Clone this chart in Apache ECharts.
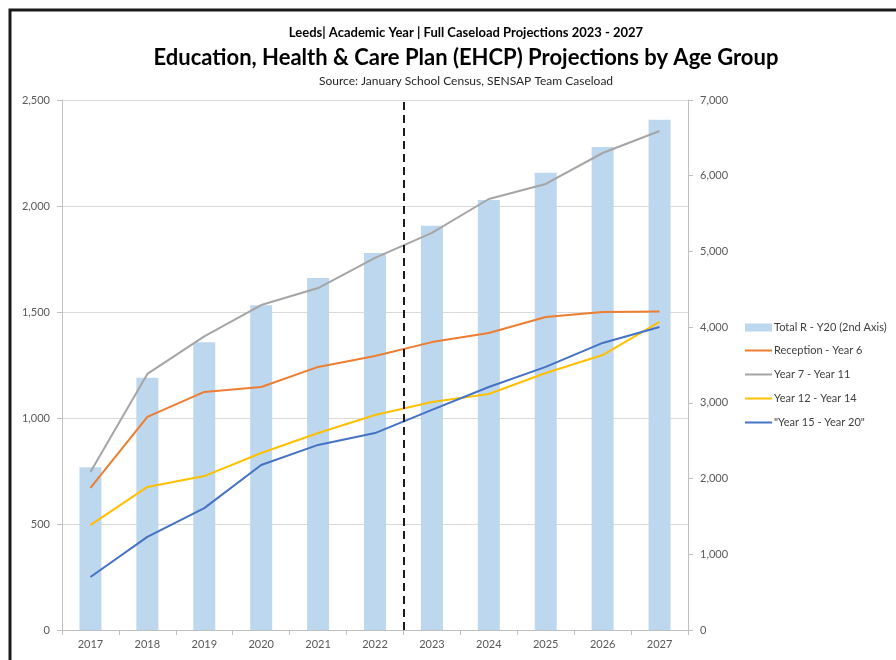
<!DOCTYPE html>
<html>
<head>
<meta charset="utf-8">
<script src="https://cdn.jsdelivr.net/npm/echarts@6/dist/echarts.min.js"></script>
<style>
  html, body { margin: 0; padding: 0; background: #fff; }
  #chart { width: 896px; height: 660px; }
</style>
</head>
<body>
<div id="chart"></div>
<script>
// chart data
const years = ['2017', '2018', '2019', '2020', '2021', '2022', '2023', '2024', '2025', '2026', '2027']
const totalR = [2150, 3330, 3800, 4290, 4650, 4980, 5340, 5680, 6040, 6380, 6740]
const reception = [670, 1005, 1123, 1146, 1241, 1292, 1358, 1401, 1476, 1500, 1502]
const year7to11 = [745, 1208, 1385, 1533, 1613, 1755, 1873, 2033, 2104, 2250, 2354]
const year12to14 = [495, 675, 726, 835, 929, 1014, 1075, 1113, 1212, 1297, 1453]
const year15to20 = [250, 439, 575, 778, 873, 929, 1038, 1146, 1241, 1354, 1429]
const splitAt = 6 // dashed line between 2022 and 2023

const lineNames = ['Reception - Year 6', 'Year 7 - Year 11', 'Year 12 - Year 14', '"Year 15 - Year 20"']
const barName = 'Total R - Y20 (2nd Axis)'

const font = 'Lato, "Open Sans", sans-serif'
const axisGrey = '#bfbfbf'
const labelGrey = '#595959'

const chart = echarts.init(document.getElementById('chart'))

const lineSeries = (name, data, color) => ({
  name,
  type: 'line',
  yAxisIndex: 0,
  data,
  symbol: 'none',
  lineStyle: { color, width: 2 },
  itemStyle: { color },
  z: 3
})

const legendText = { fontSize: 11, color: '#404040', fontFamily: font, padding: [0, 0, 0, -3] }

chart.setOption({
  textStyle: { fontFamily: font },
  title: [
    {
      text: 'Leeds| Academic Year | Full Caseload Projections 2023 - 2027',
      left: 461, top: 21, textAlign: 'center',
      textStyle: { fontSize: 13, fontWeight: 'bold', color: '#000', fontFamily: font }
    },
    {
      text: 'Education, Health & Care Plan (EHCP) Projections by Age Group',
      left: 461, top: 42, textAlign: 'center',
      textStyle: { fontSize: 22, fontWeight: 'bold', color: '#000', fontFamily: font }
    },
    {
      text: 'Source: January School Census, SENSAP Team Caseload',
      left: 461, top: 70, textAlign: 'center',
      textStyle: { fontSize: 12, fontWeight: 'normal', color: '#262626', fontFamily: font }
    }
  ],
  graphic: [
    {
      type: 'rect',
      shape: { x: 10, y: 10, width: 900, height: 670 },
      style: { fill: 'none', stroke: '#1a1a1a', lineWidth: 3 },
      silent: true
    }
  ],
  legend: [
    {
      orient: 'vertical',
      left: 745,
      top: 322,
      padding: 0,
      itemWidth: 27,
      itemHeight: 8,
      icon: 'rect',
      data: [barName],
      textStyle: legendText
    },
    {
      orient: 'vertical',
      left: 745,
      top: 345,
      padding: 0,
      itemWidth: 27,
      itemHeight: 2,
      itemGap: 13,
      icon: 'rect',
      data: lineNames,
      textStyle: legendText
    }
  ],
  grid: { left: 62, right: 208, top: 100, bottom: 30, containLabel: false },
  xAxis: [
    {
      type: 'category',
      data: years,
      boundaryGap: true,
      axisLine: { lineStyle: { color: axisGrey } },
      axisTick: { show: true, alignWithLabel: false, length: 5, lineStyle: { color: axisGrey } },
      axisLabel: { color: labelGrey, fontSize: 11, margin: 9 }
    },
    {
      type: 'value',
      min: 0,
      max: 11,
      show: false
    }
  ],
  yAxis: [
    {
      type: 'value',
      min: 0,
      max: 2500,
      interval: 500,
      position: 'left',
      axisLine: { show: true, lineStyle: { color: axisGrey } },
      axisTick: { show: true, length: 5, lineStyle: { color: axisGrey } },
      splitLine: { lineStyle: { color: '#d9d9d9' } },
      axisLabel: {
        color: labelGrey, fontSize: 11, margin: 12,
        formatter: v => v.toLocaleString('en-US')
      }
    },
    {
      type: 'value',
      min: 0,
      max: 7000,
      interval: 1000,
      position: 'right',
      axisLine: { show: true, lineStyle: { color: axisGrey } },
      axisTick: { show: true, length: 5, lineStyle: { color: axisGrey } },
      splitLine: { show: false },
      axisLabel: {
        color: labelGrey, fontSize: 11, margin: 12,
        formatter: v => v.toLocaleString('en-US')
      }
    }
  ],
  series: [
    {
      name: barName,
      type: 'bar',
      yAxisIndex: 1,
      data: totalR,
      barWidth: 22,
      itemStyle: { color: '#bdd7ee' },
      z: 1
    },
    lineSeries(lineNames[0], reception, '#ed7d31'),
    lineSeries(lineNames[1], year7to11, '#a5a5a5'),
    lineSeries(lineNames[2], year12to14, '#ffc000'),
    lineSeries(lineNames[3], year15to20, '#4472c4'),
    {
      name: 'split',
      type: 'line',
      xAxisIndex: 1,
      yAxisIndex: 0,
      data: [[splitAt, 0]],
      symbol: 'none',
      lineStyle: { opacity: 0 },
      silent: true,
      z: 4,
      markLine: {
        silent: true,
        symbol: 'none',
        label: { show: false },
        lineStyle: { color: '#1a1a1a', width: 2, type: [8, 5] },
        data: [{ xAxis: splitAt }]
      }
    }
  ]
})
</script>
</body>
</html>
